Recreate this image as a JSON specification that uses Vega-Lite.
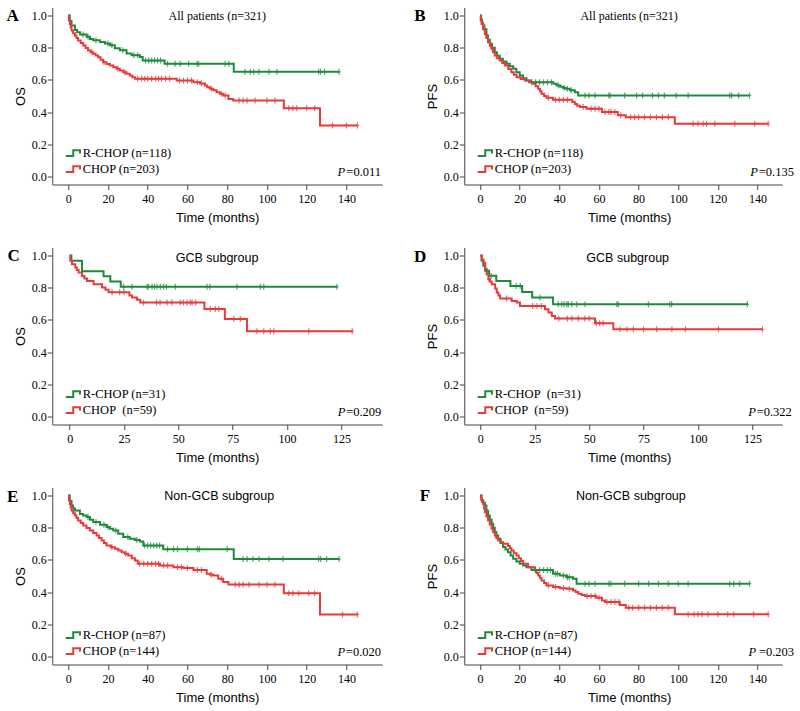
{
"$schema":"https://vega.github.io/schema/vega-lite/v6.json",
"padding":{"left":6.25,"top":6.5,"right":0,"bottom":0},
"background":"white",
"config":{
 "view":{"stroke":null},
 "axis":{"domainColor":"#444","tickColor":"#444","tickSize":5,"labelFont":"Liberation Serif","labelFontSize":12,"labelColor":"#000","titleFont":"Liberation Sans","titleFontSize":13,"titleFontWeight":"normal","titleColor":"#000","grid":false,"labelOverlap":false},
 "axisQuantitative":{"labelOverlap":false},
 "axisX":{"labelPadding":4,"labelAngle":0,"titleY":32.6,"titleBaseline":"middle"},
 "axisY":{"labelPadding":1,"titleX":-32,"titleBaseline":"middle","labelOverlap":false},
 "legend":{"symbolSize":225,"symbolStrokeWidth":2,"symbolFillColor":"transparent","symbolOpacity":1,"labelFont":"Liberation Serif","labelFontSize":12.5,"labelColor":"#000","labelOffset":1,"rowPadding":-1,"padding":0,"labelLimit":0}
},
"datasets":{"km":[
{"p":"A","k":"G","t":0,"s":1,"c":0},{"p":"A","k":"G","t":0.8,"s":0.966,"c":0},{"p":"A","k":"G","t":1.7,"s":0.938,"c":0},{"p":"A","k":"G","t":3.4,"s":0.91,"c":0},{"p":"A","k":"G","t":4.5,"s":0.896,"c":0},{"p":"A","k":"G","t":6,"s":0.882,"c":0},{"p":"A","k":"G","t":9.3,"s":0.868,"c":0},{"p":"A","k":"G","t":11,"s":0.855,"c":0},{"p":"A","k":"G","t":12.6,"s":0.847,"c":0},{"p":"A","k":"G","t":16,"s":0.836,"c":0},{"p":"A","k":"G","t":18.5,"s":0.826,"c":0},{"p":"A","k":"G","t":21,"s":0.815,"c":0},{"p":"A","k":"G","t":23.5,"s":0.796,"c":0},{"p":"A","k":"G","t":26,"s":0.784,"c":0},{"p":"A","k":"G","t":29.4,"s":0.764,"c":0},{"p":"A","k":"G","t":31.9,"s":0.754,"c":0},{"p":"A","k":"G","t":36.1,"s":0.742,"c":0},{"p":"A","k":"G","t":37.5,"s":0.72,"c":0},{"p":"A","k":"G","t":48.5,"s":0.7,"c":0},{"p":"A","k":"G","t":83.3,"s":0.65,"c":0},
{"p":"A","k":"G","t":7.5,"s":0.882,"c":1},{"p":"A","k":"G","t":10,"s":0.868,"c":1},{"p":"A","k":"G","t":14,"s":0.847,"c":1},{"p":"A","k":"G","t":20,"s":0.826,"c":1},{"p":"A","k":"G","t":22,"s":0.815,"c":1},{"p":"A","k":"G","t":27.5,"s":0.784,"c":1},{"p":"A","k":"G","t":33,"s":0.754,"c":1},{"p":"A","k":"G","t":35,"s":0.754,"c":1},{"p":"A","k":"G","t":39,"s":0.72,"c":1},{"p":"A","k":"G","t":40.5,"s":0.72,"c":1},{"p":"A","k":"G","t":42,"s":0.72,"c":1},{"p":"A","k":"G","t":43.5,"s":0.72,"c":1},{"p":"A","k":"G","t":45,"s":0.72,"c":1},{"p":"A","k":"G","t":46.5,"s":0.72,"c":1},{"p":"A","k":"G","t":50,"s":0.7,"c":1},{"p":"A","k":"G","t":53.8,"s":0.7,"c":1},{"p":"A","k":"G","t":56.4,"s":0.7,"c":1},{"p":"A","k":"G","t":60.6,"s":0.7,"c":1},{"p":"A","k":"G","t":64.8,"s":0.7,"c":1},{"p":"A","k":"G","t":65.6,"s":0.7,"c":1},{"p":"A","k":"G","t":79,"s":0.7,"c":1},{"p":"A","k":"G","t":80.8,"s":0.7,"c":1},{"p":"A","k":"G","t":89,"s":0.65,"c":1},{"p":"A","k":"G","t":91.7,"s":0.65,"c":1},{"p":"A","k":"G","t":93.4,"s":0.65,"c":1},{"p":"A","k":"G","t":95.9,"s":0.65,"c":1},{"p":"A","k":"G","t":101,"s":0.65,"c":1},{"p":"A","k":"G","t":105,"s":0.65,"c":1},{"p":"A","k":"G","t":126,"s":0.65,"c":1},{"p":"A","k":"G","t":127,"s":0.65,"c":1},{"p":"A","k":"G","t":129,"s":0.65,"c":1},{"p":"A","k":"G","t":136.3,"s":0.65,"c":1},
{"p":"A","k":"R","t":0,"s":1,"c":0},{"p":"A","k":"R","t":0.4,"s":0.97,"c":0},{"p":"A","k":"R","t":0.85,"s":0.948,"c":0},{"p":"A","k":"R","t":1.3,"s":0.925,"c":0},{"p":"A","k":"R","t":1.7,"s":0.907,"c":0},{"p":"A","k":"R","t":2.5,"s":0.89,"c":0},{"p":"A","k":"R","t":3.4,"s":0.876,"c":0},{"p":"A","k":"R","t":4.2,"s":0.86,"c":0},{"p":"A","k":"R","t":5,"s":0.845,"c":0},{"p":"A","k":"R","t":6.3,"s":0.83,"c":0},{"p":"A","k":"R","t":7.6,"s":0.814,"c":0},{"p":"A","k":"R","t":8.8,"s":0.798,"c":0},{"p":"A","k":"R","t":10,"s":0.783,"c":0},{"p":"A","k":"R","t":11.3,"s":0.772,"c":0},{"p":"A","k":"R","t":12.6,"s":0.762,"c":0},{"p":"A","k":"R","t":13.8,"s":0.752,"c":0},{"p":"A","k":"R","t":15.1,"s":0.741,"c":0},{"p":"A","k":"R","t":16.3,"s":0.725,"c":0},{"p":"A","k":"R","t":17.6,"s":0.71,"c":0},{"p":"A","k":"R","t":19.3,"s":0.699,"c":0},{"p":"A","k":"R","t":21,"s":0.689,"c":0},{"p":"A","k":"R","t":22.7,"s":0.679,"c":0},{"p":"A","k":"R","t":24.4,"s":0.669,"c":0},{"p":"A","k":"R","t":26,"s":0.658,"c":0},{"p":"A","k":"R","t":27.7,"s":0.648,"c":0},{"p":"A","k":"R","t":29.3,"s":0.638,"c":0},{"p":"A","k":"R","t":31,"s":0.627,"c":0},{"p":"A","k":"R","t":32.3,"s":0.617,"c":0},{"p":"A","k":"R","t":33.6,"s":0.607,"c":0},{"p":"A","k":"R","t":54.6,"s":0.596,"c":0},{"p":"A","k":"R","t":63,"s":0.586,"c":0},{"p":"A","k":"R","t":66.3,"s":0.578,"c":0},{"p":"A","k":"R","t":68.8,"s":0.565,"c":0},{"p":"A","k":"R","t":70,"s":0.555,"c":0},{"p":"A","k":"R","t":71.3,"s":0.545,"c":0},{"p":"A","k":"R","t":73,"s":0.535,"c":0},{"p":"A","k":"R","t":74.7,"s":0.524,"c":0},{"p":"A","k":"R","t":76.3,"s":0.514,"c":0},{"p":"A","k":"R","t":78,"s":0.503,"c":0},{"p":"A","k":"R","t":80.6,"s":0.482,"c":0},{"p":"A","k":"R","t":83,"s":0.472,"c":0},{"p":"A","k":"R","t":108.5,"s":0.424,"c":0},{"p":"A","k":"R","t":126.7,"s":0.317,"c":0},
{"p":"A","k":"R","t":12,"s":0.772,"c":1},{"p":"A","k":"R","t":18,"s":0.71,"c":1},{"p":"A","k":"R","t":25,"s":0.669,"c":1},{"p":"A","k":"R","t":28.5,"s":0.648,"c":1},{"p":"A","k":"R","t":35,"s":0.607,"c":1},{"p":"A","k":"R","t":37,"s":0.607,"c":1},{"p":"A","k":"R","t":38.5,"s":0.607,"c":1},{"p":"A","k":"R","t":40,"s":0.607,"c":1},{"p":"A","k":"R","t":42,"s":0.607,"c":1},{"p":"A","k":"R","t":44,"s":0.607,"c":1},{"p":"A","k":"R","t":45.5,"s":0.607,"c":1},{"p":"A","k":"R","t":47,"s":0.607,"c":1},{"p":"A","k":"R","t":49,"s":0.607,"c":1},{"p":"A","k":"R","t":51,"s":0.607,"c":1},{"p":"A","k":"R","t":56,"s":0.596,"c":1},{"p":"A","k":"R","t":58,"s":0.596,"c":1},{"p":"A","k":"R","t":60,"s":0.596,"c":1},{"p":"A","k":"R","t":62,"s":0.596,"c":1},{"p":"A","k":"R","t":65,"s":0.586,"c":1},{"p":"A","k":"R","t":67,"s":0.578,"c":1},{"p":"A","k":"R","t":72,"s":0.545,"c":1},{"p":"A","k":"R","t":77,"s":0.514,"c":1},{"p":"A","k":"R","t":79,"s":0.503,"c":1},{"p":"A","k":"R","t":86,"s":0.472,"c":1},{"p":"A","k":"R","t":88,"s":0.472,"c":1},{"p":"A","k":"R","t":90,"s":0.472,"c":1},{"p":"A","k":"R","t":94,"s":0.472,"c":1},{"p":"A","k":"R","t":100,"s":0.472,"c":1},{"p":"A","k":"R","t":104,"s":0.472,"c":1},{"p":"A","k":"R","t":111,"s":0.424,"c":1},{"p":"A","k":"R","t":113,"s":0.424,"c":1},{"p":"A","k":"R","t":115,"s":0.424,"c":1},{"p":"A","k":"R","t":120,"s":0.424,"c":1},{"p":"A","k":"R","t":124,"s":0.424,"c":1},{"p":"A","k":"R","t":133,"s":0.317,"c":1},{"p":"A","k":"R","t":140,"s":0.317,"c":1},{"p":"A","k":"R","t":145.5,"s":0.317,"c":1},
{"p":"B","k":"G","t":0,"s":1,"c":0},{"p":"B","k":"G","t":0.5,"s":0.975,"c":0},{"p":"B","k":"G","t":1,"s":0.955,"c":0},{"p":"B","k":"G","t":1.5,"s":0.938,"c":0},{"p":"B","k":"G","t":2.2,"s":0.915,"c":0},{"p":"B","k":"G","t":3.2,"s":0.876,"c":0},{"p":"B","k":"G","t":4,"s":0.85,"c":0},{"p":"B","k":"G","t":4.9,"s":0.824,"c":0},{"p":"B","k":"G","t":6,"s":0.8,"c":0},{"p":"B","k":"G","t":7.4,"s":0.772,"c":0},{"p":"B","k":"G","t":8.5,"s":0.75,"c":0},{"p":"B","k":"G","t":9.9,"s":0.731,"c":0},{"p":"B","k":"G","t":11.5,"s":0.715,"c":0},{"p":"B","k":"G","t":13.3,"s":0.7,"c":0},{"p":"B","k":"G","t":15,"s":0.685,"c":0},{"p":"B","k":"G","t":16.7,"s":0.669,"c":0},{"p":"B","k":"G","t":18.3,"s":0.648,"c":0},{"p":"B","k":"G","t":20,"s":0.627,"c":0},{"p":"B","k":"G","t":21.7,"s":0.61,"c":0},{"p":"B","k":"G","t":23.4,"s":0.596,"c":0},{"p":"B","k":"G","t":25.5,"s":0.586,"c":0},{"p":"B","k":"G","t":37,"s":0.576,"c":0},{"p":"B","k":"G","t":38.6,"s":0.566,"c":0},{"p":"B","k":"G","t":40.5,"s":0.558,"c":0},{"p":"B","k":"G","t":41.9,"s":0.55,"c":0},{"p":"B","k":"G","t":43.5,"s":0.545,"c":0},{"p":"B","k":"G","t":45.3,"s":0.535,"c":0},{"p":"B","k":"G","t":47.8,"s":0.524,"c":0},{"p":"B","k":"G","t":49.5,"s":0.503,"c":0},
{"p":"B","k":"G","t":26,"s":0.586,"c":1},{"p":"B","k":"G","t":28,"s":0.586,"c":1},{"p":"B","k":"G","t":30,"s":0.586,"c":1},{"p":"B","k":"G","t":32,"s":0.586,"c":1},{"p":"B","k":"G","t":34,"s":0.586,"c":1},{"p":"B","k":"G","t":36,"s":0.586,"c":1},{"p":"B","k":"G","t":39.5,"s":0.566,"c":1},{"p":"B","k":"G","t":42.5,"s":0.55,"c":1},{"p":"B","k":"G","t":44,"s":0.545,"c":1},{"p":"B","k":"G","t":46,"s":0.535,"c":1},{"p":"B","k":"G","t":53,"s":0.503,"c":1},{"p":"B","k":"G","t":55,"s":0.503,"c":1},{"p":"B","k":"G","t":58,"s":0.503,"c":1},{"p":"B","k":"G","t":65,"s":0.503,"c":1},{"p":"B","k":"G","t":65.6,"s":0.503,"c":1},{"p":"B","k":"G","t":73,"s":0.503,"c":1},{"p":"B","k":"G","t":79,"s":0.503,"c":1},{"p":"B","k":"G","t":82,"s":0.503,"c":1},{"p":"B","k":"G","t":87,"s":0.503,"c":1},{"p":"B","k":"G","t":90,"s":0.503,"c":1},{"p":"B","k":"G","t":93,"s":0.503,"c":1},{"p":"B","k":"G","t":99,"s":0.503,"c":1},{"p":"B","k":"G","t":105,"s":0.503,"c":1},{"p":"B","k":"G","t":126,"s":0.503,"c":1},{"p":"B","k":"G","t":127,"s":0.503,"c":1},{"p":"B","k":"G","t":130.5,"s":0.503,"c":1},{"p":"B","k":"G","t":136,"s":0.503,"c":1},
{"p":"B","k":"R","t":0,"s":1,"c":0},{"p":"B","k":"R","t":0.3,"s":0.97,"c":0},{"p":"B","k":"R","t":0.7,"s":0.948,"c":0},{"p":"B","k":"R","t":1.5,"s":0.915,"c":0},{"p":"B","k":"R","t":2.4,"s":0.886,"c":0},{"p":"B","k":"R","t":3.2,"s":0.86,"c":0},{"p":"B","k":"R","t":4,"s":0.834,"c":0},{"p":"B","k":"R","t":5,"s":0.81,"c":0},{"p":"B","k":"R","t":5.7,"s":0.793,"c":0},{"p":"B","k":"R","t":6.5,"s":0.772,"c":0},{"p":"B","k":"R","t":7.4,"s":0.752,"c":0},{"p":"B","k":"R","t":8.6,"s":0.735,"c":0},{"p":"B","k":"R","t":9.9,"s":0.72,"c":0},{"p":"B","k":"R","t":11.2,"s":0.705,"c":0},{"p":"B","k":"R","t":12.5,"s":0.689,"c":0},{"p":"B","k":"R","t":14.2,"s":0.668,"c":0},{"p":"B","k":"R","t":15.8,"s":0.648,"c":0},{"p":"B","k":"R","t":17,"s":0.632,"c":0},{"p":"B","k":"R","t":18.4,"s":0.617,"c":0},{"p":"B","k":"R","t":20.5,"s":0.605,"c":0},{"p":"B","k":"R","t":22.6,"s":0.596,"c":0},{"p":"B","k":"R","t":24.7,"s":0.586,"c":0},{"p":"B","k":"R","t":26.8,"s":0.576,"c":0},{"p":"B","k":"R","t":28,"s":0.56,"c":0},{"p":"B","k":"R","t":29.3,"s":0.545,"c":0},{"p":"B","k":"R","t":30.2,"s":0.53,"c":0},{"p":"B","k":"R","t":31,"s":0.514,"c":0},{"p":"B","k":"R","t":32.3,"s":0.5,"c":0},{"p":"B","k":"R","t":33.5,"s":0.489,"c":0},{"p":"B","k":"R","t":36.8,"s":0.476,"c":0},{"p":"B","k":"R","t":46.5,"s":0.462,"c":0},{"p":"B","k":"R","t":47.8,"s":0.451,"c":0},{"p":"B","k":"R","t":49,"s":0.44,"c":0},{"p":"B","k":"R","t":50.3,"s":0.431,"c":0},{"p":"B","k":"R","t":53.7,"s":0.42,"c":0},{"p":"B","k":"R","t":61.5,"s":0.4,"c":0},{"p":"B","k":"R","t":69.5,"s":0.38,"c":0},{"p":"B","k":"R","t":73.5,"s":0.368,"c":0},{"p":"B","k":"R","t":98.3,"s":0.327,"c":0},
{"p":"B","k":"R","t":34.5,"s":0.489,"c":1},{"p":"B","k":"R","t":38,"s":0.476,"c":1},{"p":"B","k":"R","t":40,"s":0.476,"c":1},{"p":"B","k":"R","t":42,"s":0.476,"c":1},{"p":"B","k":"R","t":44,"s":0.476,"c":1},{"p":"B","k":"R","t":52,"s":0.431,"c":1},{"p":"B","k":"R","t":56,"s":0.42,"c":1},{"p":"B","k":"R","t":58,"s":0.42,"c":1},{"p":"B","k":"R","t":60,"s":0.42,"c":1},{"p":"B","k":"R","t":63,"s":0.4,"c":1},{"p":"B","k":"R","t":65,"s":0.4,"c":1},{"p":"B","k":"R","t":66,"s":0.4,"c":1},{"p":"B","k":"R","t":68,"s":0.4,"c":1},{"p":"B","k":"R","t":71,"s":0.38,"c":1},{"p":"B","k":"R","t":76,"s":0.368,"c":1},{"p":"B","k":"R","t":78,"s":0.368,"c":1},{"p":"B","k":"R","t":80,"s":0.368,"c":1},{"p":"B","k":"R","t":83,"s":0.368,"c":1},{"p":"B","k":"R","t":86,"s":0.368,"c":1},{"p":"B","k":"R","t":89,"s":0.368,"c":1},{"p":"B","k":"R","t":92,"s":0.368,"c":1},{"p":"B","k":"R","t":95,"s":0.368,"c":1},{"p":"B","k":"R","t":107.5,"s":0.327,"c":1},{"p":"B","k":"R","t":110,"s":0.327,"c":1},{"p":"B","k":"R","t":112.6,"s":0.327,"c":1},{"p":"B","k":"R","t":114.3,"s":0.327,"c":1},{"p":"B","k":"R","t":118.5,"s":0.327,"c":1},{"p":"B","k":"R","t":128.6,"s":0.327,"c":1},{"p":"B","k":"R","t":138.6,"s":0.327,"c":1},{"p":"B","k":"R","t":145.4,"s":0.327,"c":1},
{"p":"C","k":"G","t":0,"s":1,"c":0},{"p":"C","k":"G","t":0.8,"s":0.968,"c":0},{"p":"C","k":"G","t":5.7,"s":0.903,"c":0},{"p":"C","k":"G","t":15.6,"s":0.871,"c":0},{"p":"C","k":"G","t":18.7,"s":0.839,"c":0},{"p":"C","k":"G","t":23.5,"s":0.806,"c":0},
{"p":"C","k":"G","t":24.8,"s":0.806,"c":1},{"p":"C","k":"G","t":28.7,"s":0.806,"c":1},{"p":"C","k":"G","t":35.6,"s":0.806,"c":1},{"p":"C","k":"G","t":36.3,"s":0.806,"c":1},{"p":"C","k":"G","t":37.9,"s":0.806,"c":1},{"p":"C","k":"G","t":39,"s":0.806,"c":1},{"p":"C","k":"G","t":40.2,"s":0.806,"c":1},{"p":"C","k":"G","t":41.7,"s":0.806,"c":1},{"p":"C","k":"G","t":43.2,"s":0.806,"c":1},{"p":"C","k":"G","t":44.5,"s":0.806,"c":1},{"p":"C","k":"G","t":48.6,"s":0.806,"c":1},{"p":"C","k":"G","t":63.2,"s":0.806,"c":1},{"p":"C","k":"G","t":64.5,"s":0.806,"c":1},{"p":"C","k":"G","t":77,"s":0.806,"c":1},{"p":"C","k":"G","t":87.7,"s":0.806,"c":1},{"p":"C","k":"G","t":89.3,"s":0.806,"c":1},{"p":"C","k":"G","t":123,"s":0.806,"c":1},
{"p":"C","k":"R","t":0,"s":1,"c":0},{"p":"C","k":"R","t":0.3,"s":0.967,"c":0},{"p":"C","k":"R","t":1.1,"s":0.946,"c":0},{"p":"C","k":"R","t":2.6,"s":0.925,"c":0},{"p":"C","k":"R","t":3.3,"s":0.91,"c":0},{"p":"C","k":"R","t":4.1,"s":0.894,"c":0},{"p":"C","k":"R","t":5.7,"s":0.873,"c":0},{"p":"C","k":"R","t":6.8,"s":0.858,"c":0},{"p":"C","k":"R","t":8,"s":0.842,"c":0},{"p":"C","k":"R","t":11,"s":0.822,"c":0},{"p":"C","k":"R","t":14.9,"s":0.801,"c":0},{"p":"C","k":"R","t":16.5,"s":0.787,"c":0},{"p":"C","k":"R","t":17.9,"s":0.772,"c":0},{"p":"C","k":"R","t":27.5,"s":0.752,"c":0},{"p":"C","k":"R","t":28.7,"s":0.739,"c":0},{"p":"C","k":"R","t":31,"s":0.725,"c":0},{"p":"C","k":"R","t":32.5,"s":0.708,"c":0},{"p":"C","k":"R","t":62,"s":0.668,"c":0},{"p":"C","k":"R","t":71.4,"s":0.606,"c":0},{"p":"C","k":"R","t":81.6,"s":0.53,"c":0},
{"p":"C","k":"R","t":19.5,"s":0.772,"c":1},{"p":"C","k":"R","t":23,"s":0.772,"c":1},{"p":"C","k":"R","t":25,"s":0.772,"c":1},{"p":"C","k":"R","t":34,"s":0.708,"c":1},{"p":"C","k":"R","t":40,"s":0.708,"c":1},{"p":"C","k":"R","t":41.6,"s":0.708,"c":1},{"p":"C","k":"R","t":44.8,"s":0.708,"c":1},{"p":"C","k":"R","t":47,"s":0.708,"c":1},{"p":"C","k":"R","t":50.9,"s":0.708,"c":1},{"p":"C","k":"R","t":52.3,"s":0.708,"c":1},{"p":"C","k":"R","t":54,"s":0.708,"c":1},{"p":"C","k":"R","t":55.5,"s":0.708,"c":1},{"p":"C","k":"R","t":56.3,"s":0.708,"c":1},{"p":"C","k":"R","t":58,"s":0.708,"c":1},{"p":"C","k":"R","t":64.7,"s":0.668,"c":1},{"p":"C","k":"R","t":67,"s":0.668,"c":1},{"p":"C","k":"R","t":68.6,"s":0.668,"c":1},{"p":"C","k":"R","t":75.5,"s":0.606,"c":1},{"p":"C","k":"R","t":78.5,"s":0.606,"c":1},{"p":"C","k":"R","t":86.2,"s":0.53,"c":1},{"p":"C","k":"R","t":89.3,"s":0.53,"c":1},{"p":"C","k":"R","t":92.3,"s":0.53,"c":1},{"p":"C","k":"R","t":93.9,"s":0.53,"c":1},{"p":"C","k":"R","t":110,"s":0.53,"c":1},{"p":"C","k":"R","t":130,"s":0.53,"c":1},
{"p":"D","k":"G","t":0,"s":1,"c":0},{"p":"D","k":"G","t":0.6,"s":0.968,"c":0},{"p":"D","k":"G","t":1.4,"s":0.936,"c":0},{"p":"D","k":"G","t":2.2,"s":0.905,"c":0},{"p":"D","k":"G","t":4,"s":0.874,"c":0},{"p":"D","k":"G","t":7.3,"s":0.842,"c":0},{"p":"D","k":"G","t":13.8,"s":0.811,"c":0},{"p":"D","k":"G","t":19.2,"s":0.774,"c":0},{"p":"D","k":"G","t":23.8,"s":0.739,"c":0},{"p":"D","k":"G","t":33.4,"s":0.697,"c":0},
{"p":"D","k":"G","t":3,"s":0.905,"c":1},{"p":"D","k":"G","t":5,"s":0.874,"c":1},{"p":"D","k":"G","t":16.5,"s":0.811,"c":1},{"p":"D","k":"G","t":18.3,"s":0.811,"c":1},{"p":"D","k":"G","t":27.4,"s":0.739,"c":1},{"p":"D","k":"G","t":35.8,"s":0.697,"c":1},{"p":"D","k":"G","t":37.4,"s":0.697,"c":1},{"p":"D","k":"G","t":38.5,"s":0.697,"c":1},{"p":"D","k":"G","t":39.7,"s":0.697,"c":1},{"p":"D","k":"G","t":40.4,"s":0.697,"c":1},{"p":"D","k":"G","t":42,"s":0.697,"c":1},{"p":"D","k":"G","t":44.3,"s":0.697,"c":1},{"p":"D","k":"G","t":48.1,"s":0.697,"c":1},{"p":"D","k":"G","t":62.7,"s":0.697,"c":1},{"p":"D","k":"G","t":63.4,"s":0.697,"c":1},{"p":"D","k":"G","t":77.2,"s":0.697,"c":1},{"p":"D","k":"G","t":87,"s":0.697,"c":1},{"p":"D","k":"G","t":87.9,"s":0.697,"c":1},{"p":"D","k":"G","t":122.7,"s":0.697,"c":1},
{"p":"D","k":"R","t":0,"s":1,"c":0},{"p":"D","k":"R","t":0.6,"s":0.975,"c":0},{"p":"D","k":"R","t":1.4,"s":0.956,"c":0},{"p":"D","k":"R","t":2.2,"s":0.915,"c":0},{"p":"D","k":"R","t":2.9,"s":0.884,"c":0},{"p":"D","k":"R","t":3.7,"s":0.853,"c":0},{"p":"D","k":"R","t":4.4,"s":0.838,"c":0},{"p":"D","k":"R","t":5.2,"s":0.822,"c":0},{"p":"D","k":"R","t":6.8,"s":0.795,"c":0},{"p":"D","k":"R","t":7.5,"s":0.77,"c":0},{"p":"D","k":"R","t":8.3,"s":0.752,"c":0},{"p":"D","k":"R","t":9.1,"s":0.733,"c":0},{"p":"D","k":"R","t":14.4,"s":0.718,"c":0},{"p":"D","k":"R","t":16.7,"s":0.708,"c":0},{"p":"D","k":"R","t":18.2,"s":0.687,"c":0},{"p":"D","k":"R","t":29.7,"s":0.666,"c":0},{"p":"D","k":"R","t":31.3,"s":0.646,"c":0},{"p":"D","k":"R","t":32.8,"s":0.625,"c":0},{"p":"D","k":"R","t":34.3,"s":0.609,"c":0},{"p":"D","k":"R","t":52.7,"s":0.58,"c":0},{"p":"D","k":"R","t":61.1,"s":0.542,"c":0},
{"p":"D","k":"R","t":4,"s":0.853,"c":1},{"p":"D","k":"R","t":12,"s":0.733,"c":1},{"p":"D","k":"R","t":24,"s":0.687,"c":1},{"p":"D","k":"R","t":26,"s":0.687,"c":1},{"p":"D","k":"R","t":28,"s":0.687,"c":1},{"p":"D","k":"R","t":36,"s":0.609,"c":1},{"p":"D","k":"R","t":40,"s":0.609,"c":1},{"p":"D","k":"R","t":42,"s":0.609,"c":1},{"p":"D","k":"R","t":45,"s":0.609,"c":1},{"p":"D","k":"R","t":48,"s":0.609,"c":1},{"p":"D","k":"R","t":50,"s":0.609,"c":1},{"p":"D","k":"R","t":53.3,"s":0.58,"c":1},{"p":"D","k":"R","t":54.8,"s":0.58,"c":1},{"p":"D","k":"R","t":56.4,"s":0.58,"c":1},{"p":"D","k":"R","t":64.2,"s":0.542,"c":1},{"p":"D","k":"R","t":67.3,"s":0.542,"c":1},{"p":"D","k":"R","t":70.3,"s":0.542,"c":1},{"p":"D","k":"R","t":75,"s":0.542,"c":1},{"p":"D","k":"R","t":81,"s":0.542,"c":1},{"p":"D","k":"R","t":88,"s":0.542,"c":1},{"p":"D","k":"R","t":94.2,"s":0.542,"c":1},{"p":"D","k":"R","t":109.4,"s":0.542,"c":1},{"p":"D","k":"R","t":129.6,"s":0.542,"c":1},
{"p":"E","k":"G","t":0,"s":1,"c":0},{"p":"E","k":"G","t":0.8,"s":0.966,"c":0},{"p":"E","k":"G","t":1.7,"s":0.938,"c":0},{"p":"E","k":"G","t":2.5,"s":0.92,"c":0},{"p":"E","k":"G","t":3.4,"s":0.907,"c":0},{"p":"E","k":"G","t":5.9,"s":0.886,"c":0},{"p":"E","k":"G","t":7.5,"s":0.876,"c":0},{"p":"E","k":"G","t":9.3,"s":0.866,"c":0},{"p":"E","k":"G","t":11,"s":0.85,"c":0},{"p":"E","k":"G","t":12.6,"s":0.835,"c":0},{"p":"E","k":"G","t":16,"s":0.818,"c":0},{"p":"E","k":"G","t":19.3,"s":0.804,"c":0},{"p":"E","k":"G","t":21,"s":0.793,"c":0},{"p":"E","k":"G","t":22.7,"s":0.783,"c":0},{"p":"E","k":"G","t":25.2,"s":0.762,"c":0},{"p":"E","k":"G","t":27.7,"s":0.742,"c":0},{"p":"E","k":"G","t":31,"s":0.731,"c":0},{"p":"E","k":"G","t":33.5,"s":0.724,"c":0},{"p":"E","k":"G","t":36.1,"s":0.714,"c":0},{"p":"E","k":"G","t":37.8,"s":0.689,"c":0},{"p":"E","k":"G","t":47.8,"s":0.667,"c":0},{"p":"E","k":"G","t":83.3,"s":0.605,"c":0},
{"p":"E","k":"G","t":10,"s":0.866,"c":1},{"p":"E","k":"G","t":14,"s":0.835,"c":1},{"p":"E","k":"G","t":18,"s":0.818,"c":1},{"p":"E","k":"G","t":20,"s":0.804,"c":1},{"p":"E","k":"G","t":24,"s":0.783,"c":1},{"p":"E","k":"G","t":30,"s":0.742,"c":1},{"p":"E","k":"G","t":34.5,"s":0.724,"c":1},{"p":"E","k":"G","t":38.5,"s":0.689,"c":1},{"p":"E","k":"G","t":40,"s":0.689,"c":1},{"p":"E","k":"G","t":41.5,"s":0.689,"c":1},{"p":"E","k":"G","t":43,"s":0.689,"c":1},{"p":"E","k":"G","t":44.5,"s":0.689,"c":1},{"p":"E","k":"G","t":46,"s":0.689,"c":1},{"p":"E","k":"G","t":50,"s":0.667,"c":1},{"p":"E","k":"G","t":53,"s":0.667,"c":1},{"p":"E","k":"G","t":55,"s":0.667,"c":1},{"p":"E","k":"G","t":60,"s":0.667,"c":1},{"p":"E","k":"G","t":65,"s":0.667,"c":1},{"p":"E","k":"G","t":66,"s":0.667,"c":1},{"p":"E","k":"G","t":80,"s":0.667,"c":1},{"p":"E","k":"G","t":88,"s":0.605,"c":1},{"p":"E","k":"G","t":90,"s":0.605,"c":1},{"p":"E","k":"G","t":93,"s":0.605,"c":1},{"p":"E","k":"G","t":96,"s":0.605,"c":1},{"p":"E","k":"G","t":101,"s":0.605,"c":1},{"p":"E","k":"G","t":108,"s":0.605,"c":1},{"p":"E","k":"G","t":126,"s":0.605,"c":1},{"p":"E","k":"G","t":127,"s":0.605,"c":1},{"p":"E","k":"G","t":130,"s":0.605,"c":1},{"p":"E","k":"G","t":136.3,"s":0.605,"c":1},
{"p":"E","k":"R","t":0,"s":1,"c":0},{"p":"E","k":"R","t":0.4,"s":0.97,"c":0},{"p":"E","k":"R","t":0.85,"s":0.948,"c":0},{"p":"E","k":"R","t":1.3,"s":0.925,"c":0},{"p":"E","k":"R","t":1.7,"s":0.907,"c":0},{"p":"E","k":"R","t":2.5,"s":0.89,"c":0},{"p":"E","k":"R","t":3.4,"s":0.876,"c":0},{"p":"E","k":"R","t":4.2,"s":0.86,"c":0},{"p":"E","k":"R","t":5,"s":0.845,"c":0},{"p":"E","k":"R","t":6.3,"s":0.83,"c":0},{"p":"E","k":"R","t":7.6,"s":0.814,"c":0},{"p":"E","k":"R","t":9.2,"s":0.798,"c":0},{"p":"E","k":"R","t":10.9,"s":0.783,"c":0},{"p":"E","k":"R","t":12.6,"s":0.767,"c":0},{"p":"E","k":"R","t":14.3,"s":0.752,"c":0},{"p":"E","k":"R","t":15.5,"s":0.736,"c":0},{"p":"E","k":"R","t":16.8,"s":0.72,"c":0},{"p":"E","k":"R","t":18,"s":0.705,"c":0},{"p":"E","k":"R","t":19.3,"s":0.689,"c":0},{"p":"E","k":"R","t":21.4,"s":0.679,"c":0},{"p":"E","k":"R","t":23.5,"s":0.669,"c":0},{"p":"E","k":"R","t":25.2,"s":0.658,"c":0},{"p":"E","k":"R","t":26.9,"s":0.648,"c":0},{"p":"E","k":"R","t":28.5,"s":0.638,"c":0},{"p":"E","k":"R","t":30.2,"s":0.627,"c":0},{"p":"E","k":"R","t":32,"s":0.611,"c":0},{"p":"E","k":"R","t":33.6,"s":0.596,"c":0},{"p":"E","k":"R","t":35,"s":0.576,"c":0},{"p":"E","k":"R","t":46.2,"s":0.565,"c":0},{"p":"E","k":"R","t":52.9,"s":0.555,"c":0},{"p":"E","k":"R","t":58,"s":0.549,"c":0},{"p":"E","k":"R","t":63,"s":0.538,"c":0},{"p":"E","k":"R","t":69.7,"s":0.514,"c":0},{"p":"E","k":"R","t":71.5,"s":0.508,"c":0},{"p":"E","k":"R","t":73,"s":0.503,"c":0},{"p":"E","k":"R","t":75.5,"s":0.483,"c":0},{"p":"E","k":"R","t":78,"s":0.462,"c":0},{"p":"E","k":"R","t":80.6,"s":0.447,"c":0},{"p":"E","k":"R","t":108.5,"s":0.393,"c":0},{"p":"E","k":"R","t":126.7,"s":0.261,"c":0},
{"p":"E","k":"R","t":22,"s":0.679,"c":1},{"p":"E","k":"R","t":29,"s":0.638,"c":1},{"p":"E","k":"R","t":36,"s":0.576,"c":1},{"p":"E","k":"R","t":38,"s":0.576,"c":1},{"p":"E","k":"R","t":40,"s":0.576,"c":1},{"p":"E","k":"R","t":42,"s":0.576,"c":1},{"p":"E","k":"R","t":44,"s":0.576,"c":1},{"p":"E","k":"R","t":45.5,"s":0.576,"c":1},{"p":"E","k":"R","t":48,"s":0.565,"c":1},{"p":"E","k":"R","t":50,"s":0.565,"c":1},{"p":"E","k":"R","t":55,"s":0.555,"c":1},{"p":"E","k":"R","t":57,"s":0.555,"c":1},{"p":"E","k":"R","t":60,"s":0.549,"c":1},{"p":"E","k":"R","t":65,"s":0.538,"c":1},{"p":"E","k":"R","t":67,"s":0.538,"c":1},{"p":"E","k":"R","t":72,"s":0.508,"c":1},{"p":"E","k":"R","t":77,"s":0.483,"c":1},{"p":"E","k":"R","t":84,"s":0.447,"c":1},{"p":"E","k":"R","t":86,"s":0.447,"c":1},{"p":"E","k":"R","t":88,"s":0.447,"c":1},{"p":"E","k":"R","t":91,"s":0.447,"c":1},{"p":"E","k":"R","t":96,"s":0.447,"c":1},{"p":"E","k":"R","t":100,"s":0.447,"c":1},{"p":"E","k":"R","t":104,"s":0.447,"c":1},{"p":"E","k":"R","t":111,"s":0.393,"c":1},{"p":"E","k":"R","t":113,"s":0.393,"c":1},{"p":"E","k":"R","t":116,"s":0.393,"c":1},{"p":"E","k":"R","t":121,"s":0.393,"c":1},{"p":"E","k":"R","t":124,"s":0.393,"c":1},{"p":"E","k":"R","t":138,"s":0.261,"c":1},{"p":"E","k":"R","t":145.5,"s":0.261,"c":1},
{"p":"F","k":"G","t":0,"s":1,"c":0},{"p":"F","k":"G","t":0.8,"s":0.97,"c":0},{"p":"F","k":"G","t":1.6,"s":0.955,"c":0},{"p":"F","k":"G","t":2.4,"s":0.938,"c":0},{"p":"F","k":"G","t":3.2,"s":0.905,"c":0},{"p":"F","k":"G","t":4,"s":0.876,"c":0},{"p":"F","k":"G","t":4.9,"s":0.85,"c":0},{"p":"F","k":"G","t":5.8,"s":0.824,"c":0},{"p":"F","k":"G","t":6.6,"s":0.8,"c":0},{"p":"F","k":"G","t":7.4,"s":0.773,"c":0},{"p":"F","k":"G","t":8.2,"s":0.752,"c":0},{"p":"F","k":"G","t":9.1,"s":0.731,"c":0},{"p":"F","k":"G","t":10.3,"s":0.705,"c":0},{"p":"F","k":"G","t":11.6,"s":0.68,"c":0},{"p":"F","k":"G","t":12.8,"s":0.665,"c":0},{"p":"F","k":"G","t":14.1,"s":0.648,"c":0},{"p":"F","k":"G","t":15.4,"s":0.627,"c":0},{"p":"F","k":"G","t":16.7,"s":0.607,"c":0},{"p":"F","k":"G","t":18.3,"s":0.59,"c":0},{"p":"F","k":"G","t":20,"s":0.576,"c":0},{"p":"F","k":"G","t":21.7,"s":0.565,"c":0},{"p":"F","k":"G","t":23.4,"s":0.555,"c":0},{"p":"F","k":"G","t":25.9,"s":0.538,"c":0},{"p":"F","k":"G","t":36.8,"s":0.514,"c":0},{"p":"F","k":"G","t":40.2,"s":0.503,"c":0},{"p":"F","k":"G","t":43.6,"s":0.493,"c":0},{"p":"F","k":"G","t":46.9,"s":0.483,"c":0},{"p":"F","k":"G","t":48.7,"s":0.452,"c":0},
{"p":"F","k":"G","t":28,"s":0.538,"c":1},{"p":"F","k":"G","t":30,"s":0.538,"c":1},{"p":"F","k":"G","t":32,"s":0.538,"c":1},{"p":"F","k":"G","t":34,"s":0.538,"c":1},{"p":"F","k":"G","t":35.5,"s":0.538,"c":1},{"p":"F","k":"G","t":38,"s":0.514,"c":1},{"p":"F","k":"G","t":39,"s":0.514,"c":1},{"p":"F","k":"G","t":42,"s":0.503,"c":1},{"p":"F","k":"G","t":44,"s":0.493,"c":1},{"p":"F","k":"G","t":45,"s":0.493,"c":1},{"p":"F","k":"G","t":53,"s":0.452,"c":1},{"p":"F","k":"G","t":55,"s":0.452,"c":1},{"p":"F","k":"G","t":58,"s":0.452,"c":1},{"p":"F","k":"G","t":65,"s":0.452,"c":1},{"p":"F","k":"G","t":66,"s":0.452,"c":1},{"p":"F","k":"G","t":73,"s":0.452,"c":1},{"p":"F","k":"G","t":80,"s":0.452,"c":1},{"p":"F","k":"G","t":85,"s":0.452,"c":1},{"p":"F","k":"G","t":90,"s":0.452,"c":1},{"p":"F","k":"G","t":95,"s":0.452,"c":1},{"p":"F","k":"G","t":100,"s":0.452,"c":1},{"p":"F","k":"G","t":105,"s":0.452,"c":1},{"p":"F","k":"G","t":126,"s":0.452,"c":1},{"p":"F","k":"G","t":128,"s":0.452,"c":1},{"p":"F","k":"G","t":131,"s":0.452,"c":1},{"p":"F","k":"G","t":136,"s":0.452,"c":1},
{"p":"F","k":"R","t":0,"s":1,"c":0},{"p":"F","k":"R","t":0.5,"s":0.975,"c":0},{"p":"F","k":"R","t":1,"s":0.96,"c":0},{"p":"F","k":"R","t":1.5,"s":0.948,"c":0},{"p":"F","k":"R","t":2,"s":0.92,"c":0},{"p":"F","k":"R","t":2.4,"s":0.897,"c":0},{"p":"F","k":"R","t":3.2,"s":0.87,"c":0},{"p":"F","k":"R","t":4,"s":0.845,"c":0},{"p":"F","k":"R","t":4.9,"s":0.82,"c":0},{"p":"F","k":"R","t":5.8,"s":0.793,"c":0},{"p":"F","k":"R","t":6.6,"s":0.772,"c":0},{"p":"F","k":"R","t":7.4,"s":0.752,"c":0},{"p":"F","k":"R","t":8.2,"s":0.735,"c":0},{"p":"F","k":"R","t":9.1,"s":0.72,"c":0},{"p":"F","k":"R","t":10.3,"s":0.71,"c":0},{"p":"F","k":"R","t":11.6,"s":0.7,"c":0},{"p":"F","k":"R","t":14.1,"s":0.686,"c":0},{"p":"F","k":"R","t":15,"s":0.672,"c":0},{"p":"F","k":"R","t":15.8,"s":0.658,"c":0},{"p":"F","k":"R","t":17,"s":0.642,"c":0},{"p":"F","k":"R","t":18.4,"s":0.627,"c":0},{"p":"F","k":"R","t":19.5,"s":0.61,"c":0},{"p":"F","k":"R","t":20.6,"s":0.593,"c":0},{"p":"F","k":"R","t":21.7,"s":0.576,"c":0},{"p":"F","k":"R","t":24.2,"s":0.555,"c":0},{"p":"F","k":"R","t":27.6,"s":0.534,"c":0},{"p":"F","k":"R","t":28.5,"s":0.518,"c":0},{"p":"F","k":"R","t":29.3,"s":0.503,"c":0},{"p":"F","k":"R","t":30.2,"s":0.488,"c":0},{"p":"F","k":"R","t":31,"s":0.472,"c":0},{"p":"F","k":"R","t":32.3,"s":0.456,"c":0},{"p":"F","k":"R","t":33.5,"s":0.441,"c":0},{"p":"F","k":"R","t":36.8,"s":0.431,"c":0},{"p":"F","k":"R","t":40.2,"s":0.424,"c":0},{"p":"F","k":"R","t":43.6,"s":0.42,"c":0},{"p":"F","k":"R","t":46.9,"s":0.41,"c":0},{"p":"F","k":"R","t":48.2,"s":0.4,"c":0},{"p":"F","k":"R","t":49.5,"s":0.389,"c":0},{"p":"F","k":"R","t":51.2,"s":0.382,"c":0},{"p":"F","k":"R","t":52.9,"s":0.375,"c":0},{"p":"F","k":"R","t":58.7,"s":0.365,"c":0},{"p":"F","k":"R","t":61.5,"s":0.348,"c":0},{"p":"F","k":"R","t":63,"s":0.338,"c":0},{"p":"F","k":"R","t":70.5,"s":0.32,"c":0},{"p":"F","k":"R","t":73.5,"s":0.302,"c":0},{"p":"F","k":"R","t":98.3,"s":0.262,"c":0},
{"p":"F","k":"R","t":34.5,"s":0.441,"c":1},{"p":"F","k":"R","t":38,"s":0.431,"c":1},{"p":"F","k":"R","t":42,"s":0.424,"c":1},{"p":"F","k":"R","t":45,"s":0.42,"c":1},{"p":"F","k":"R","t":54,"s":0.375,"c":1},{"p":"F","k":"R","t":56,"s":0.375,"c":1},{"p":"F","k":"R","t":58,"s":0.375,"c":1},{"p":"F","k":"R","t":60,"s":0.365,"c":1},{"p":"F","k":"R","t":64,"s":0.338,"c":1},{"p":"F","k":"R","t":66,"s":0.338,"c":1},{"p":"F","k":"R","t":68,"s":0.338,"c":1},{"p":"F","k":"R","t":70,"s":0.338,"c":1},{"p":"F","k":"R","t":75,"s":0.302,"c":1},{"p":"F","k":"R","t":77,"s":0.302,"c":1},{"p":"F","k":"R","t":80,"s":0.302,"c":1},{"p":"F","k":"R","t":83,"s":0.302,"c":1},{"p":"F","k":"R","t":86,"s":0.302,"c":1},{"p":"F","k":"R","t":89,"s":0.302,"c":1},{"p":"F","k":"R","t":92,"s":0.302,"c":1},{"p":"F","k":"R","t":95,"s":0.302,"c":1},{"p":"F","k":"R","t":105,"s":0.262,"c":1},{"p":"F","k":"R","t":108,"s":0.262,"c":1},{"p":"F","k":"R","t":110,"s":0.262,"c":1},{"p":"F","k":"R","t":112,"s":0.262,"c":1},{"p":"F","k":"R","t":115,"s":0.262,"c":1},{"p":"F","k":"R","t":120,"s":0.262,"c":1},{"p":"F","k":"R","t":125,"s":0.262,"c":1},{"p":"F","k":"R","t":128,"s":0.262,"c":1},{"p":"F","k":"R","t":138,"s":0.262,"c":1},{"p":"F","k":"R","t":145.4,"s":0.262,"c":1}
]},
"columns":2,
"spacing":{"row":63,"column":82},
"bounds":"flush",
"resolve":{"scale":{"color":"independent"},"legend":{"color":"independent"}},
"concat":[
{"width":330,"height":177,
 "layer":[
  {"data":{"name":"km"},"transform":[{"filter":"datum.p=='A'"}],"mark":{"type":"line","interpolate":"step-after","strokeWidth":2},
   "encoding":{
    "x":{"field":"t","type":"quantitative","scale":{"domain":[-8,158],"nice":false,"zero":false},"axis":{"values":[0,20,40,60,80,100,120,140],"title":"Time (months)","labelOverlap":false}},
    "y":{"field":"s","type":"quantitative","scale":{"domain":[-0.05,1.05],"nice":false,"zero":false},"axis":{"values":[0,0.2,0.4,0.6,0.8,1],"format":".1f","title":"OS","labelOverlap":false}},
    "color":{"field":"k","type":"nominal","scale":{"domain":["G","R"],"range":["#1e8b3c","#e63b3b"]},"legend":{"title":null,"orient":"none","legendX":12.5,"legendY":137,"symbolType":"M-1,0.4H0V-0.36H0.9V0.05","labelExpr":"datum.label=='G'?'R-CHOP (n=118)':'CHOP (n=203)'"}}}},
  {"data":{"name":"km"},"transform":[{"filter":"datum.p=='A'&&datum.c==1"}],"mark":{"type":"point","shape":"M0,-1V1M-0.6,0H0.6","size":36,"filled":false,"strokeWidth":1.2,"opacity":0.75},
   "encoding":{"x":{"field":"t","type":"quantitative","axis":{"values":[0,20,40,60,80,100,120,140],"title":"Time (months)","labelOverlap":false}},"y":{"field":"s","type":"quantitative","axis":{"values":[0,0.2,0.4,0.6,0.8,1],"format":".1f","title":"OS","labelOverlap":false}},"color":{"field":"k","type":"nominal","legend":null}}},
  {"data":{"values":[{}]},"mark":{"type":"text","text":"All patients (n=321)","font":"Liberation Serif","fontSize":12,"baseline":"middle","color":"#000"},"encoding":{"x":{"datum":75,"axis":{"values":[0,20,40,60,80,100,120,140],"title":"Time (months)","labelOverlap":false}},"y":{"datum":1,"axis":{"values":[0,0.2,0.4,0.6,0.8,1],"format":".1f","title":"OS","labelOverlap":false}}}},
  {"data":{"values":[{}]},"mark":{"type":"text","text":"A","font":"Liberation Serif","fontSize":17,"fontWeight":"bold","baseline":"middle","color":"#000"},"encoding":{"x":{"datum":-27.9,"axis":{"values":[0,20,40,60,80,100,120,140],"title":"Time (months)","labelOverlap":false}},"y":{"datum":1,"axis":{"values":[0,0.2,0.4,0.6,0.8,1],"format":".1f","title":"OS","labelOverlap":false}}}},
  {"data":{"values":[{}]},"mark":{"type":"text","text":"=0.011","font":"Liberation Serif","fontSize":12.5,"align":"right","baseline":"middle","color":"#000"},"encoding":{"x":{"datum":157.4,"axis":{"values":[0,20,40,60,80,100,120,140],"title":"Time (months)","labelOverlap":false}},"y":{"datum":0.03,"axis":{"values":[0,0.2,0.4,0.6,0.8,1],"format":".1f","title":"OS","labelOverlap":false}}}},
  {"data":{"values":[{}]},"mark":{"type":"text","text":"P","font":"Liberation Serif","fontSize":12.5,"fontStyle":"italic","align":"right","baseline":"middle","dx":-36,"color":"#000"},"encoding":{"x":{"datum":157.4,"axis":{"values":[0,20,40,60,80,100,120,140],"title":"Time (months)","labelOverlap":false}},"y":{"datum":0.03,"axis":{"values":[0,0.2,0.4,0.6,0.8,1],"format":".1f","title":"OS","labelOverlap":false}}}}
 ]},
{"width":318,"height":177,
 "layer":[
  {"data":{"name":"km"},"transform":[{"filter":"datum.p=='B'"}],"mark":{"type":"line","interpolate":"step-after","strokeWidth":2},
   "encoding":{
    "x":{"field":"t","type":"quantitative","scale":{"domain":[-8,152.5],"nice":false,"zero":false},"axis":{"values":[0,20,40,60,80,100,120,140],"title":"Time (months)","titleX":165,"labelOverlap":false}},
    "y":{"field":"s","type":"quantitative","scale":{"domain":[-0.05,1.05],"nice":false,"zero":false},"axis":{"values":[0,0.2,0.4,0.6,0.8,1],"format":".1f","title":"PFS","labelOverlap":false}},
    "color":{"field":"k","type":"nominal","scale":{"domain":["G","R"],"range":["#1e8b3c","#e63b3b"]},"legend":{"title":null,"orient":"none","legendX":12.5,"legendY":137,"symbolType":"M-1,0.4H0V-0.36H0.9V0.05","labelExpr":"datum.label=='G'?'R-CHOP (n=118)':'CHOP (n=203)'"}}}},
  {"data":{"name":"km"},"transform":[{"filter":"datum.p=='B'&&datum.c==1"}],"mark":{"type":"point","shape":"M0,-1V1M-0.6,0H0.6","size":36,"filled":false,"strokeWidth":1.2,"opacity":0.75},
   "encoding":{"x":{"field":"t","type":"quantitative","axis":{"values":[0,20,40,60,80,100,120,140],"title":"Time (months)","titleX":165,"labelOverlap":false}},"y":{"field":"s","type":"quantitative","axis":{"values":[0,0.2,0.4,0.6,0.8,1],"format":".1f","title":"PFS","labelOverlap":false}},"color":{"field":"k","type":"nominal","legend":null}}},
  {"data":{"values":[{}]},"mark":{"type":"text","text":"All patients (n=321)","font":"Liberation Serif","fontSize":12,"baseline":"middle","color":"#000"},"encoding":{"x":{"datum":75.2,"axis":{"values":[0,20,40,60,80,100,120,140],"title":"Time (months)","titleX":165,"labelOverlap":false}},"y":{"datum":1,"axis":{"values":[0,0.2,0.4,0.6,0.8,1],"format":".1f","title":"PFS","labelOverlap":false}}}},
  {"data":{"values":[{}]},"mark":{"type":"text","text":"B","font":"Liberation Serif","fontSize":17,"fontWeight":"bold","baseline":"middle","color":"#000"},"encoding":{"x":{"datum":-30.4,"axis":{"values":[0,20,40,60,80,100,120,140],"title":"Time (months)","titleX":165,"labelOverlap":false}},"y":{"datum":1,"axis":{"values":[0,0.2,0.4,0.6,0.8,1],"format":".1f","title":"PFS","labelOverlap":false}}}},
  {"data":{"values":[{}]},"mark":{"type":"text","text":"=0.135","font":"Liberation Serif","fontSize":12.5,"align":"right","baseline":"middle","color":"#000"},"encoding":{"x":{"datum":158.4,"axis":{"values":[0,20,40,60,80,100,120,140],"title":"Time (months)","titleX":165,"labelOverlap":false}},"y":{"datum":0.03,"axis":{"values":[0,0.2,0.4,0.6,0.8,1],"format":".1f","title":"PFS","labelOverlap":false}}}},
  {"data":{"values":[{}]},"mark":{"type":"text","text":"P","font":"Liberation Serif","fontSize":12.5,"fontStyle":"italic","align":"right","baseline":"middle","dx":-36,"color":"#000"},"encoding":{"x":{"datum":158.4,"axis":{"values":[0,20,40,60,80,100,120,140],"title":"Time (months)","titleX":165,"labelOverlap":false}},"y":{"datum":0.03,"axis":{"values":[0,0.2,0.4,0.6,0.8,1],"format":".1f","title":"PFS","labelOverlap":false}}}}
 ]},
{"width":330,"height":177,
 "layer":[
  {"data":{"name":"km"},"transform":[{"filter":"datum.p=='C'"}],"mark":{"type":"line","interpolate":"step-after","strokeWidth":2},
   "encoding":{
    "x":{"field":"t","type":"quantitative","scale":{"domain":[-8,143.8],"nice":false,"zero":false},"axis":{"values":[0,25,50,75,100,125],"title":"Time (months)","labelOverlap":false}},
    "y":{"field":"s","type":"quantitative","scale":{"domain":[-0.05,1.05],"nice":false,"zero":false},"axis":{"values":[0,0.2,0.4,0.6,0.8,1],"format":".1f","title":"OS","labelOverlap":false}},
    "color":{"field":"k","type":"nominal","scale":{"domain":["G","R"],"range":["#1e8b3c","#e63b3b"]},"legend":{"title":null,"orient":"none","legendX":12.5,"legendY":138,"symbolType":"M-1,0.4H0V-0.36H0.9V0.05","labelExpr":"datum.label=='G'?'R-CHOP (n=31)':'CHOP\u00a0 (n=59)'"}}}},
  {"data":{"name":"km"},"transform":[{"filter":"datum.p=='C'&&datum.c==1"}],"mark":{"type":"point","shape":"M0,-1V1M-0.6,0H0.6","size":36,"filled":false,"strokeWidth":1.2,"opacity":0.75},
   "encoding":{"x":{"field":"t","type":"quantitative","axis":{"values":[0,25,50,75,100,125],"title":"Time (months)","labelOverlap":false}},"y":{"field":"s","type":"quantitative","axis":{"values":[0,0.2,0.4,0.6,0.8,1],"format":".1f","title":"OS","labelOverlap":false}},"color":{"field":"k","type":"nominal","legend":null}}},
  {"data":{"values":[{}]},"mark":{"type":"text","text":"GCB subgroup","font":"Liberation Sans","fontSize":12.5,"baseline":"middle","color":"#000"},"encoding":{"x":{"datum":67.8,"axis":{"values":[0,25,50,75,100,125],"title":"Time (months)","labelOverlap":false}},"y":{"datum":0.985,"axis":{"values":[0,0.2,0.4,0.6,0.8,1],"format":".1f","title":"OS","labelOverlap":false}}}},
  {"data":{"values":[{}]},"mark":{"type":"text","text":"C","font":"Liberation Serif","fontSize":17,"fontWeight":"bold","baseline":"middle","color":"#000"},"encoding":{"x":{"datum":-25.8,"axis":{"values":[0,25,50,75,100,125],"title":"Time (months)","labelOverlap":false}},"y":{"datum":1,"axis":{"values":[0,0.2,0.4,0.6,0.8,1],"format":".1f","title":"OS","labelOverlap":false}}}},
  {"data":{"values":[{}]},"mark":{"type":"text","text":"=0.209","font":"Liberation Serif","fontSize":12.5,"align":"right","baseline":"middle","color":"#000"},"encoding":{"x":{"datum":143.4,"axis":{"values":[0,25,50,75,100,125],"title":"Time (months)","labelOverlap":false}},"y":{"datum":0.03,"axis":{"values":[0,0.2,0.4,0.6,0.8,1],"format":".1f","title":"OS","labelOverlap":false}}}},
  {"data":{"values":[{}]},"mark":{"type":"text","text":"P","font":"Liberation Serif","fontSize":12.5,"fontStyle":"italic","align":"right","baseline":"middle","dx":-36,"color":"#000"},"encoding":{"x":{"datum":143.4,"axis":{"values":[0,25,50,75,100,125],"title":"Time (months)","labelOverlap":false}},"y":{"datum":0.03,"axis":{"values":[0,0.2,0.4,0.6,0.8,1],"format":".1f","title":"OS","labelOverlap":false}}}}
 ]},
{"width":318,"height":177,
 "layer":[
  {"data":{"name":"km"},"transform":[{"filter":"datum.p=='D'"}],"mark":{"type":"line","interpolate":"step-after","strokeWidth":2},
   "encoding":{
    "x":{"field":"t","type":"quantitative","scale":{"domain":[-7.4,138.7],"nice":false,"zero":false},"axis":{"values":[0,25,50,75,100,125],"title":"Time (months)","titleX":165,"labelOverlap":false}},
    "y":{"field":"s","type":"quantitative","scale":{"domain":[-0.05,1.05],"nice":false,"zero":false},"axis":{"values":[0,0.2,0.4,0.6,0.8,1],"format":".1f","title":"PFS","labelOverlap":false}},
    "color":{"field":"k","type":"nominal","scale":{"domain":["G","R"],"range":["#1e8b3c","#e63b3b"]},"legend":{"title":null,"orient":"none","legendX":12.5,"legendY":138,"symbolType":"M-1,0.4H0V-0.36H0.9V0.05","labelExpr":"datum.label=='G'?'R-CHOP\u00a0 (n=31)':'CHOP\u00a0 (n=59)'"}}}},
  {"data":{"name":"km"},"transform":[{"filter":"datum.p=='D'&&datum.c==1"}],"mark":{"type":"point","shape":"M0,-1V1M-0.6,0H0.6","size":36,"filled":false,"strokeWidth":1.2,"opacity":0.75},
   "encoding":{"x":{"field":"t","type":"quantitative","axis":{"values":[0,25,50,75,100,125],"title":"Time (months)","titleX":165,"labelOverlap":false}},"y":{"field":"s","type":"quantitative","axis":{"values":[0,0.2,0.4,0.6,0.8,1],"format":".1f","title":"PFS","labelOverlap":false}},"color":{"field":"k","type":"nominal","legend":null}}},
  {"data":{"values":[{}]},"mark":{"type":"text","text":"GCB subgroup","font":"Liberation Sans","fontSize":12.5,"baseline":"middle","color":"#000"},"encoding":{"x":{"datum":67.7,"axis":{"values":[0,25,50,75,100,125],"title":"Time (months)","titleX":165,"labelOverlap":false}},"y":{"datum":0.985,"axis":{"values":[0,0.2,0.4,0.6,0.8,1],"format":".1f","title":"PFS","labelOverlap":false}}}},
  {"data":{"values":[{}]},"mark":{"type":"text","text":"D","font":"Liberation Serif","fontSize":17,"fontWeight":"bold","baseline":"middle","color":"#000"},"encoding":{"x":{"datum":-27.7,"axis":{"values":[0,25,50,75,100,125],"title":"Time (months)","titleX":165,"labelOverlap":false}},"y":{"datum":0.99,"axis":{"values":[0,0.2,0.4,0.6,0.8,1],"format":".1f","title":"PFS","labelOverlap":false}}}},
  {"data":{"values":[{}]},"mark":{"type":"text","text":"=0.322","font":"Liberation Serif","fontSize":12.5,"align":"right","baseline":"middle","color":"#000"},"encoding":{"x":{"datum":143.1,"axis":{"values":[0,25,50,75,100,125],"title":"Time (months)","titleX":165,"labelOverlap":false}},"y":{"datum":0.03,"axis":{"values":[0,0.2,0.4,0.6,0.8,1],"format":".1f","title":"PFS","labelOverlap":false}}}},
  {"data":{"values":[{}]},"mark":{"type":"text","text":"P","font":"Liberation Serif","fontSize":12.5,"fontStyle":"italic","align":"right","baseline":"middle","dx":-36,"color":"#000"},"encoding":{"x":{"datum":143.1,"axis":{"values":[0,25,50,75,100,125],"title":"Time (months)","titleX":165,"labelOverlap":false}},"y":{"datum":0.03,"axis":{"values":[0,0.2,0.4,0.6,0.8,1],"format":".1f","title":"PFS","labelOverlap":false}}}}
 ]},
{"width":330,"height":177,
 "layer":[
  {"data":{"name":"km"},"transform":[{"filter":"datum.p=='E'"}],"mark":{"type":"line","interpolate":"step-after","strokeWidth":2},
   "encoding":{
    "x":{"field":"t","type":"quantitative","scale":{"domain":[-8,158],"nice":false,"zero":false},"axis":{"values":[0,20,40,60,80,100,120,140],"title":"Time (months)","labelOverlap":false}},
    "y":{"field":"s","type":"quantitative","scale":{"domain":[-0.05,1.05],"nice":false,"zero":false},"axis":{"values":[0,0.2,0.4,0.6,0.8,1],"format":".1f","title":"OS","labelOverlap":false}},
    "color":{"field":"k","type":"nominal","scale":{"domain":["G","R"],"range":["#1e8b3c","#e63b3b"]},"legend":{"title":null,"orient":"none","legendX":12.5,"legendY":139,"symbolType":"M-1,0.4H0V-0.36H0.9V0.05","labelExpr":"datum.label=='G'?'R-CHOP (n=87)':'CHOP (n=144)'"}}}},
  {"data":{"name":"km"},"transform":[{"filter":"datum.p=='E'&&datum.c==1"}],"mark":{"type":"point","shape":"M0,-1V1M-0.6,0H0.6","size":36,"filled":false,"strokeWidth":1.2,"opacity":0.75},
   "encoding":{"x":{"field":"t","type":"quantitative","axis":{"values":[0,20,40,60,80,100,120,140],"title":"Time (months)","labelOverlap":false}},"y":{"field":"s","type":"quantitative","axis":{"values":[0,0.2,0.4,0.6,0.8,1],"format":".1f","title":"OS","labelOverlap":false}},"color":{"field":"k","type":"nominal","legend":null}}},
  {"data":{"values":[{}]},"mark":{"type":"text","text":"Non-GCB subgroup","font":"Liberation Sans","fontSize":12.5,"baseline":"middle","color":"#000"},"encoding":{"x":{"datum":76,"axis":{"values":[0,20,40,60,80,100,120,140],"title":"Time (months)","labelOverlap":false}},"y":{"datum":0.996,"axis":{"values":[0,0.2,0.4,0.6,0.8,1],"format":".1f","title":"OS","labelOverlap":false}}}},
  {"data":{"values":[{}]},"mark":{"type":"text","text":"E","font":"Liberation Serif","fontSize":17,"fontWeight":"bold","baseline":"middle","color":"#000"},"encoding":{"x":{"datum":-27.9,"axis":{"values":[0,20,40,60,80,100,120,140],"title":"Time (months)","labelOverlap":false}},"y":{"datum":0.99,"axis":{"values":[0,0.2,0.4,0.6,0.8,1],"format":".1f","title":"OS","labelOverlap":false}}}},
  {"data":{"values":[{}]},"mark":{"type":"text","text":"=0.020","font":"Liberation Serif","fontSize":12.5,"align":"right","baseline":"middle","color":"#000"},"encoding":{"x":{"datum":157.4,"axis":{"values":[0,20,40,60,80,100,120,140],"title":"Time (months)","labelOverlap":false}},"y":{"datum":0.03,"axis":{"values":[0,0.2,0.4,0.6,0.8,1],"format":".1f","title":"OS","labelOverlap":false}}}},
  {"data":{"values":[{}]},"mark":{"type":"text","text":"P","font":"Liberation Serif","fontSize":12.5,"fontStyle":"italic","align":"right","baseline":"middle","dx":-36,"color":"#000"},"encoding":{"x":{"datum":157.4,"axis":{"values":[0,20,40,60,80,100,120,140],"title":"Time (months)","labelOverlap":false}},"y":{"datum":0.03,"axis":{"values":[0,0.2,0.4,0.6,0.8,1],"format":".1f","title":"OS","labelOverlap":false}}}}
 ]},
{"width":318,"height":177,
 "layer":[
  {"data":{"name":"km"},"transform":[{"filter":"datum.p=='F'"}],"mark":{"type":"line","interpolate":"step-after","strokeWidth":2},
   "encoding":{
    "x":{"field":"t","type":"quantitative","scale":{"domain":[-8,152.5],"nice":false,"zero":false},"axis":{"values":[0,20,40,60,80,100,120,140],"title":"Time (months)","titleX":165,"labelOverlap":false}},
    "y":{"field":"s","type":"quantitative","scale":{"domain":[-0.05,1.05],"nice":false,"zero":false},"axis":{"values":[0,0.2,0.4,0.6,0.8,1],"format":".1f","title":"PFS","labelOverlap":false}},
    "color":{"field":"k","type":"nominal","scale":{"domain":["G","R"],"range":["#1e8b3c","#e63b3b"]},"legend":{"title":null,"orient":"none","legendX":12.5,"legendY":139,"symbolType":"M-1,0.4H0V-0.36H0.9V0.05","labelExpr":"datum.label=='G'?'R-CHOP (n=87)':'CHOP (n=144)'"}}}},
  {"data":{"name":"km"},"transform":[{"filter":"datum.p=='F'&&datum.c==1"}],"mark":{"type":"point","shape":"M0,-1V1M-0.6,0H0.6","size":36,"filled":false,"strokeWidth":1.2,"opacity":0.75},
   "encoding":{"x":{"field":"t","type":"quantitative","axis":{"values":[0,20,40,60,80,100,120,140],"title":"Time (months)","titleX":165,"labelOverlap":false}},"y":{"field":"s","type":"quantitative","axis":{"values":[0,0.2,0.4,0.6,0.8,1],"format":".1f","title":"PFS","labelOverlap":false}},"color":{"field":"k","type":"nominal","legend":null}}},
  {"data":{"values":[{}]},"mark":{"type":"text","text":"Non-GCB subgroup","font":"Liberation Sans","fontSize":12.5,"baseline":"middle","color":"#000"},"encoding":{"x":{"datum":76.1,"axis":{"values":[0,20,40,60,80,100,120,140],"title":"Time (months)","titleX":165,"labelOverlap":false}},"y":{"datum":0.996,"axis":{"values":[0,0.2,0.4,0.6,0.8,1],"format":".1f","title":"PFS","labelOverlap":false}}}},
  {"data":{"values":[{}]},"mark":{"type":"text","text":"F","font":"Liberation Serif","fontSize":17,"fontWeight":"bold","baseline":"middle","color":"#000"},"encoding":{"x":{"datum":-27.8,"axis":{"values":[0,20,40,60,80,100,120,140],"title":"Time (months)","titleX":165,"labelOverlap":false}},"y":{"datum":1,"axis":{"values":[0,0.2,0.4,0.6,0.8,1],"format":".1f","title":"PFS","labelOverlap":false}}}},
  {"data":{"values":[{}]},"mark":{"type":"text","text":"=0.203","font":"Liberation Serif","fontSize":12.5,"align":"right","baseline":"middle","color":"#000"},"encoding":{"x":{"datum":158.5,"axis":{"values":[0,20,40,60,80,100,120,140],"title":"Time (months)","titleX":165,"labelOverlap":false}},"y":{"datum":0.03,"axis":{"values":[0,0.2,0.4,0.6,0.8,1],"format":".1f","title":"PFS","labelOverlap":false}}}},
  {"data":{"values":[{}]},"mark":{"type":"text","text":"P","font":"Liberation Serif","fontSize":12.5,"fontStyle":"italic","align":"right","baseline":"middle","dx":-38,"color":"#000"},"encoding":{"x":{"datum":158.5,"axis":{"values":[0,20,40,60,80,100,120,140],"title":"Time (months)","titleX":165,"labelOverlap":false}},"y":{"datum":0.03,"axis":{"values":[0,0.2,0.4,0.6,0.8,1],"format":".1f","title":"PFS","labelOverlap":false}}}}
 ]}
]
}
